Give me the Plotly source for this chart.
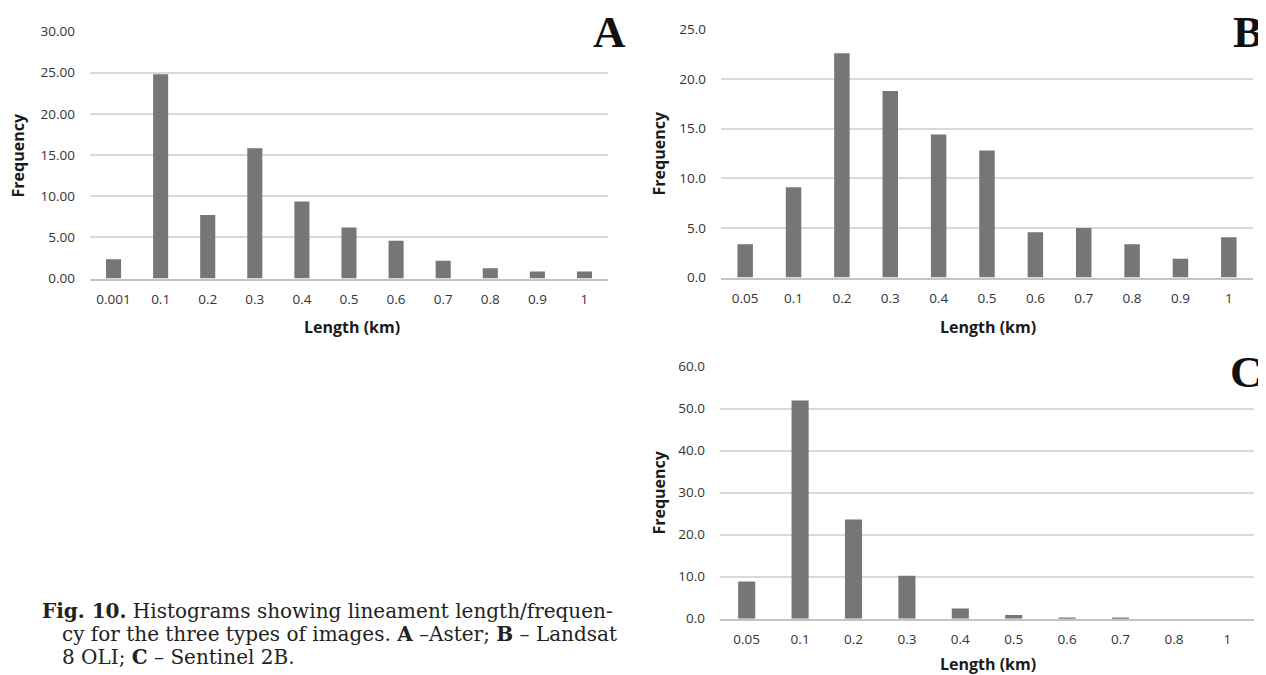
import plotly.graph_objects as go

cats_a = ["0.001", "0.1", "0.2", "0.3", "0.4", "0.5", "0.6", "0.7", "0.8", "0.9", "1"]
freq_a = [2.35, 24.8, 7.7, 15.8, 9.35, 6.2, 4.6, 2.15, 1.25, 0.85, 0.85]

cats_b = ["0.05", "0.1", "0.2", "0.3", "0.4", "0.5", "0.6", "0.7", "0.8", "0.9", "1"]
freq_b = [3.35, 9.1, 22.6, 18.8, 14.4, 12.8, 4.55, 5.0, 3.35, 1.9, 4.05]

cats_c = ["0.05", "0.1", "0.2", "0.3", "0.4", "0.5", "0.6", "0.7", "0.8", "1"]
freq_c = [8.85, 51.9, 23.6, 10.2, 2.4, 0.9, 0.25, 0.25, 0.0, 0.0]

# figure size and mapping from target picture pixels to figure pixels
W, H = 1258, 677
X_OFF, Y_OFF, Y_SCALE = 8.0, 16.6, 0.973
BAR = "#767676"
GRID = "#d9d9d9"
TICKFONT = dict(family="Open Sans, Liberation Sans, sans-serif", size=13.5, color="#333333")
TITLEFONT = dict(family="Open Sans, Liberation Sans, sans-serif", size=16, color="#1a1a1a")


def px_x(p):
    return (p - X_OFF) / W


def px_y(p):
    return 1 - ((p - Y_OFF) / Y_SCALE) / H


fig = go.Figure()
panels = [
    ("x", "y", cats_a, freq_a, (90, 608), (278, 31), 30, 5, ".2f"),
    ("x2", "y2", cats_b, freq_b, (721, 1253), (277, 29), 25, 5, ".1f"),
    ("x3", "y3", cats_c, freq_c, (720, 1254), (618, 366), 60, 10, ".1f"),
]
for i, (xa, ya, cats, vals, (x0, x1), (yb, yt), ymax, dt, fmt) in enumerate(panels):
    fig.add_trace(go.Bar(x=cats, y=vals, xaxis=xa, yaxis=ya, marker_color=BAR,
                         marker_line_width=0, showlegend=False))
    sfx = "" if i == 0 else str(i + 1)
    fig.layout["xaxis" + sfx] = dict(
        domain=[px_x(x0), min(px_x(x1), 1.0)], anchor=ya, type="category",
        showgrid=False, showline=True, linecolor="#c4c4c4", linewidth=2,
        ticks="", tickfont=TICKFONT, ticklabelstandoff=7, fixedrange=True)
    fig.layout["yaxis" + sfx] = dict(
        domain=[px_y(yb), px_y(yt)], anchor=xa, range=[0, ymax], dtick=dt,
        tickformat=fmt, showgrid=True, gridcolor=GRID, gridwidth=2,
        zeroline=False, showline=False, ticks="", tickfont=TICKFONT,
        ticklabelstandoff=14, fixedrange=True)

anns = []
for xc, yc in [(352, 326), (988, 326), (988, 663)]:
    anns.append(dict(x=px_x(xc), y=px_y(yc), xref="paper", yref="paper", text="<b>Length (km)</b>",
                     showarrow=False, font=TITLEFONT, xanchor="center", yanchor="middle"))
for xc, yc in [(18, 155), (659, 153), (659, 492)]:
    anns.append(dict(x=px_x(xc), y=px_y(yc), xref="paper", yref="paper", text="<b>Frequency</b>",
                     showarrow=False, font=TITLEFONT, textangle=-90, xanchor="center", yanchor="middle"))

LET = dict(family="Liberation Serif, DejaVu Serif, serif", size=45, color="#111111")
for t, xc, yc, xa in [("A", 609, 32, "center"), ("B", 1265, 32, "right"), ("C", 1265, 371, "right")]:
    anns.append(dict(x=px_x(xc), y=px_y(yc), xref="paper", yref="paper", text="<b>%s</b>" % t,
                     showarrow=False, font=LET, xanchor=xa, yanchor="middle"))

CAP = dict(family="DejaVu Serif, Liberation Serif, serif", size=20, color="#222222")
lines = [
    (40, 610, "<b>Fig. 10.</b> Histograms showing lineament length/frequen-"),
    (60, 633, "cy for the three types of images. <b>A</b> –Aster; <b>B</b> – Landsat"),
    (60, 656, "8 OLI; <b>C</b> – Sentinel 2B."),
]
for xl, yc, t in lines:
    anns.append(dict(x=px_x(xl), y=px_y(yc), xref="paper", yref="paper", text=t,
                     showarrow=False, font=CAP, xanchor="left", yanchor="middle", align="left"))

fig.update_layout(
    width=W, height=H, margin=dict(l=0, r=0, t=0, b=0),
    paper_bgcolor="white", plot_bgcolor="white",
    bargap=0.68, annotations=anns,
)
fig.write_html("out.html")
